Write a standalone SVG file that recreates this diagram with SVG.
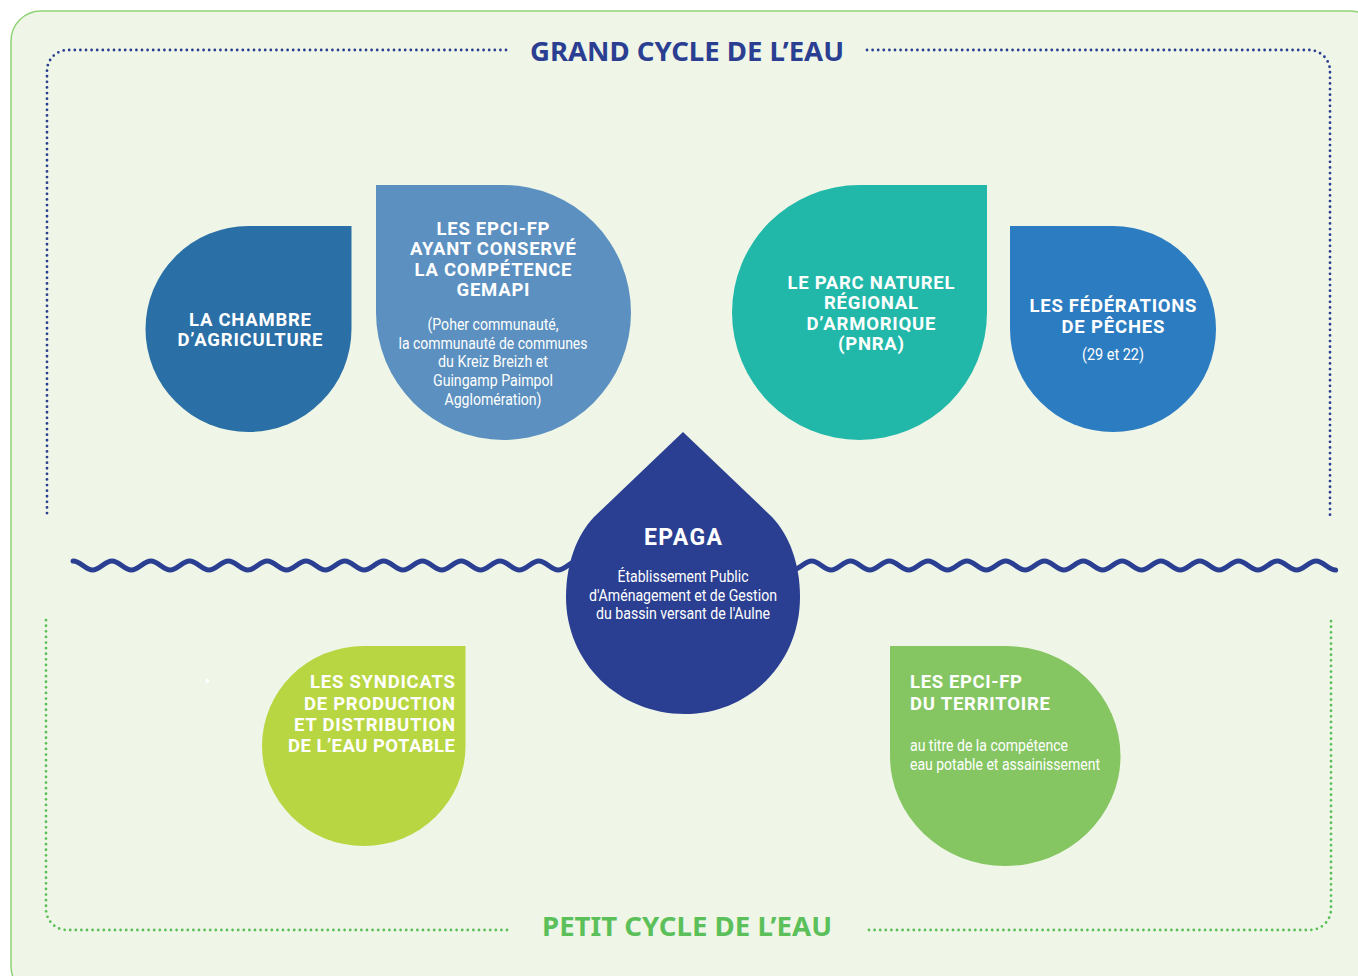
<svg xmlns="http://www.w3.org/2000/svg" width="1358" height="976" viewBox="0 0 1358 976">
<style>
text{font-family:Roboto,"Liberation Sans",sans-serif;fill:#fff}
.h{font-size:18.5px;font-weight:700}
.b{font-size:16px;font-weight:400}
.m{text-anchor:middle}
.t{font-family:"Noto Sans","Open Sans",sans-serif;font-size:26px;font-weight:700}
.dot{fill:none;stroke-width:2.8;stroke-linecap:round;stroke-dasharray:0 5.6}
.wave{fill:none;stroke:#2b3f92;stroke-width:5.2;stroke-linecap:round}
</style>
<rect id="panel" x="11" y="11" width="1369" height="985" rx="30" fill="#eff6e7" stroke="#8fd376" stroke-width="1.5"/>
<g id="connectors">
<path class="dot" stroke="#2b3f92" d="M506 50H68A21 21 0 0 0 47 71V517"/>
<path class="dot" stroke="#2b3f92" d="M867 50H1309A21 21 0 0 1 1330 71V517"/>
<path class="dot" stroke="#5cc05a" d="M507 930H67A21 21 0 0 1 46 909V619"/>
<path class="dot" stroke="#5cc05a" d="M869 930H1310A21 21 0 0 0 1331 909V619"/>
<path class="wave" d="M73.200 561
c7 0 12.400 9 19.400 9c7 0 12.400-9 19.400-9
c7 0 12.400 9 19.400 9c7 0 12.400-9 19.400-9
c7 0 12.400 9 19.400 9c7 0 12.400-9 19.400-9
c7 0 12.400 9 19.400 9c7 0 12.400-9 19.400-9
c7 0 12.400 9 19.400 9c7 0 12.400-9 19.400-9
c7 0 12.400 9 19.400 9c7 0 12.400-9 19.400-9
c7 0 12.400 9 19.400 9c7 0 12.400-9 19.400-9
c7 0 12.400 9 19.400 9c7 0 12.400-9 19.400-9
c7 0 12.400 9 19.400 9c7 0 12.400-9 19.400-9
c7 0 12.400 9 19.400 9c7 0 12.400-9 19.400-9
c7 0 12.400 9 19.400 9c7 0 12.400-9 19.400-9
c7 0 12.400 9 19.400 9c7 0 12.400-9 19.400-9
c7 0 12.400 9 19.400 9c7 0 12.400-9 19.400-9"/>
<path class="wave" d="M792.300 570
c7 0 12.400-9 19.400-9c7 0 12.400 9 19.400 9
c7 0 12.400-9 19.400-9c7 0 12.400 9 19.400 9
c7 0 12.400-9 19.400-9c7 0 12.400 9 19.400 9
c7 0 12.400-9 19.400-9c7 0 12.400 9 19.400 9
c7 0 12.400-9 19.400-9c7 0 12.400 9 19.400 9
c7 0 12.400-9 19.400-9c7 0 12.400 9 19.400 9
c7 0 12.400-9 19.400-9c7 0 12.400 9 19.400 9
c7 0 12.400-9 19.400-9c7 0 12.400 9 19.400 9
c7 0 12.400-9 19.400-9c7 0 12.400 9 19.400 9
c7 0 12.400-9 19.400-9c7 0 12.400 9 19.400 9
c7 0 12.400-9 19.400-9c7 0 12.400 9 19.400 9
c7 0 12.400-9 19.400-9c7 0 12.400 9 19.400 9
c7 0 12.400-9 19.400-9c7 0 12.400 9 19.400 9
c7 0 12.400-9 19.400-9c7 0 12.400 9 19.400 9"/>
</g>
<text class="t" style="fill:#2b3f92" x="530" y="61" textLength="314" lengthAdjust="spacingAndGlyphs">GRAND CYCLE DE L’EAU</text>
<text class="t" style="fill:#5cc05a" x="542" y="936" textLength="290" lengthAdjust="spacingAndGlyphs">PETIT CYCLE DE L’EAU</text>
<g id="chambre">
<path fill="#2a6fa6" d="M351.500 226V329A103 103 0 1 1 248.500 226Z"/>
<text class="h m" x="250" y="326" textLength="122" lengthAdjust="spacing">LA CHAMBRE</text>
<text class="h m" x="250" y="346" textLength="145" lengthAdjust="spacing">D’AGRICULTURE</text>
</g>
<g id="epci-gemapi">
<path fill="#5b90c0" d="M376 185H503.500A127.500 127.500 0 1 1 376 312.500Z"/>
<text class="h m" x="493" y="235" textLength="113" lengthAdjust="spacing">LES EPCI-FP</text>
<text class="h m" x="493" y="255" textLength="166" lengthAdjust="spacing">AYANT CONSERVÉ</text>
<text class="h m" x="493" y="276" textLength="157" lengthAdjust="spacing">LA COMPÉTENCE</text>
<text class="h m" x="493" y="296" textLength="73" lengthAdjust="spacing">GEMAPI</text>
<text class="b m" x="493" y="330" textLength="131" lengthAdjust="spacingAndGlyphs">(Poher communauté,</text>
<text class="b m" x="493" y="349" textLength="189" lengthAdjust="spacingAndGlyphs">la communauté de communes</text>
<text class="b m" x="493" y="367" textLength="110" lengthAdjust="spacingAndGlyphs">du Kreiz Breizh et</text>
<text class="b m" x="493" y="386" textLength="120" lengthAdjust="spacingAndGlyphs">Guingamp Paimpol</text>
<text class="b m" x="493" y="405" textLength="97" lengthAdjust="spacingAndGlyphs">Agglomération)</text>
</g>
<g id="pnra">
<path fill="#22b8a9" d="M987 185H859.500A127.500 127.500 0 1 0 987 312.500Z"/>
<text class="h m" x="871" y="289" textLength="167" lengthAdjust="spacing">LE PARC NATUREL</text>
<text class="h m" x="871" y="309" textLength="94" lengthAdjust="spacing">RÉGIONAL</text>
<text class="h m" x="871" y="330" textLength="129" lengthAdjust="spacing">D’ARMORIQUE</text>
<text class="h m" x="871" y="350" textLength="66" lengthAdjust="spacing">(PNRA)</text>
</g>
<g id="federations">
<path fill="#2c7cc1" d="M1010 226H1113A103 103 0 1 1 1010 329Z"/>
<text class="h m" x="1113" y="312" textLength="167" lengthAdjust="spacing">LES FÉDÉRATIONS</text>
<text class="h m" x="1113" y="333" textLength="103" lengthAdjust="spacing">DE PÊCHES</text>
<text class="b m" x="1113" y="360" textLength="62" lengthAdjust="spacingAndGlyphs">(29 et 22)</text>
</g>
<g id="epaga">
<path fill="#2b3f92" d="M683 432L772 517C790 536 800 565 800 597C800 662 750 714 685 714C618 714 566 662 566 597C566 565 576 536 594 517Z"/>
<text x="683" y="545" class="m" style="font-size:23px;font-weight:700" textLength="78" lengthAdjust="spacing">EPAGA</text>
<text class="b m" x="683" y="582" textLength="131" lengthAdjust="spacingAndGlyphs">Établissement Public</text>
<text class="b m" x="683" y="601" textLength="188" lengthAdjust="spacingAndGlyphs">d'Aménagement et de Gestion</text>
<text class="b m" x="683" y="619" textLength="174" lengthAdjust="spacingAndGlyphs">du bassin versant de l'Aulne</text>
</g>
<g id="syndicats">
<path fill="#b8d641" d="M465.500 646V746A101.750 100 0 1 1 363.750 646Z"/>
<text class="h" text-anchor="end" x="455" y="688" textLength="145" lengthAdjust="spacing">LES SYNDICATS</text>
<text class="h" text-anchor="end" x="455" y="710" textLength="151" lengthAdjust="spacing">DE PRODUCTION</text>
<text class="h" text-anchor="end" x="455" y="731" textLength="161" lengthAdjust="spacing">ET DISTRIBUTION</text>
<text class="h" text-anchor="end" x="455" y="752" textLength="167" lengthAdjust="spacing">DE L’EAU POTABLE</text>
</g>
<circle cx="207.500" cy="681" r="2" fill="#fff"/>
<g id="epci-territoire">
<path fill="#85c662" d="M890 646H1005.250A115.250 110 0 1 1 890 756Z"/>
<text class="h" x="910" y="688" textLength="112" lengthAdjust="spacing">LES EPCI-FP</text>
<text class="h" x="910" y="710" textLength="140" lengthAdjust="spacing">DU TERRITOIRE</text>
<text class="b" x="910" y="751" textLength="158" lengthAdjust="spacingAndGlyphs">au titre de la compétence</text>
<text class="b" x="910" y="770" textLength="190" lengthAdjust="spacingAndGlyphs">eau potable et assainissement</text>
</g>
</svg>
